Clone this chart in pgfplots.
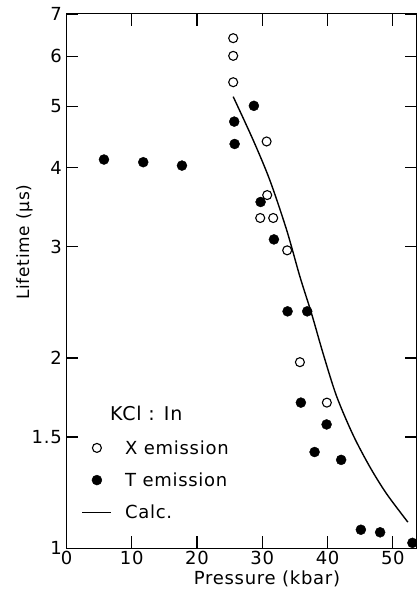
\documentclass[border=0pt]{standalone}
\usepackage{fontspec}
\setmainfont[LetterSpace=4]{DejaVu Sans}
\usepackage{pgfplots}
\pgfplotsset{compat=1.18}
\pgfplotsset{
  marklegend/.style={legend image code/.code={\path (0pt,0pt) (40pt,0pt); \draw[##1] plot coordinates {(14.5pt,0pt)};}},
  linelegend/.style={legend image code/.code={\path (40pt,0pt); \draw[##1] (0pt,0pt) -- (29pt,0pt);}},
}
\begin{document}
\begin{tikzpicture}
\useasboundingbox (-66.5pt,-41.7pt) rectangle (350.5pt,548.3pt);
\begin{axis}[
  at={(0pt,0pt)}, anchor=south west,
  scale only axis, width=350.5pt, height=534.3pt,
  xmin=0, xmax=53.7, ymin=1, ymax=7, ymode=log,
  xtick={0,10,20,30,40,50},
  ytick={1,1.5,2,3,4,5,6,7}, yticklabels={1,1.5,2,3,4,5,6,7},
  minor y tick style={draw=none},
  tick align=inside, major tick length=12pt,
  tick style={line width=1.1pt, black},
  axis line style={line width=1pt},
  /pgf/number format/assume math mode=true,
  tick label style={font=\fontsize{18}{20}\selectfont, inner sep=0pt},
  yticklabel style={xshift=-4.5pt},
  xticklabel style={yshift=-3pt},
  xlabel={Pressure (kbar)}, ylabel={Lifetime (μs)},
  label style={font=\fontsize{18}{20}\selectfont, inner sep=0pt},
  xlabel style={at={(axis description cs:0.572,-0.041)}, anchor=north},
  ylabel style={at={(axis description cs:-0.12,0.573)}, anchor=center, font=\fontsize{17}{19}\selectfont},
  legend style={at={(axis cs:2.3,1.282)}, anchor=west, draw=none, fill=none,
    inner sep=0pt, row sep=13pt, font=\fontsize{18}{20}\selectfont},
  legend cell align=left,
]
\addplot[only marks, mark=o, mark size=4.5pt, black, mark options={line width=1.1pt}, marklegend] coordinates {
(25.54,6.41) (25.54,6.01) (25.54,5.46) (30.66,4.40) (30.75,3.62)
(29.68,3.33) (31.67,3.33) (33.81,2.96) (35.76,1.97) (39.89,1.70)
};
\addlegendentry{X emission}
\addplot[only marks, mark=*, mark size=5pt, black, marklegend] coordinates {
(5.74,4.12) (11.76,4.08) (17.69,4.03) (28.71,5.01) (25.70,4.73)
(25.76,4.36) (29.74,3.53) (31.78,3.08) (33.87,2.37) (36.88,2.37)
(35.91,1.70) (39.85,1.57) (38.01,1.42) (42.08,1.38) (45.10,1.07)
(48.05,1.06) (53.0,1.02)
};
\addlegendentry{T emission}
\addplot[black, line width=1.4pt, smooth, no marks, linelegend] coordinates {
(25.54,5.18) (28.61,4.42) (31.16,3.82) (33.72,3.19) (35.76,2.69)
(37.55,2.35) (39.33,2.03) (41.38,1.74) (43.92,1.51) (46.48,1.345)
(49.03,1.22) (52.30,1.10)
};
\addlegendentry{Calc.}
\node[anchor=west, inner sep=0pt, font=\fontsize{19}{21}\selectfont] at (axis cs:6.66,1.637) {KCl : In};
\end{axis}
\end{tikzpicture}
\end{document}
